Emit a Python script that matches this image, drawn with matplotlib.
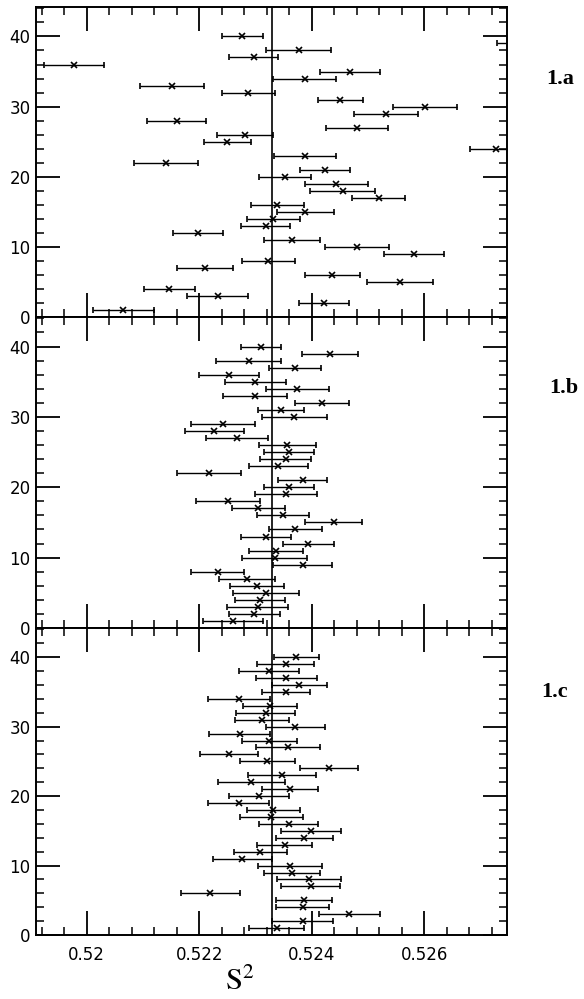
import numpy as np
import matplotlib
matplotlib.use('Agg')
import matplotlib.pyplot as plt
from matplotlib.ticker import MultipleLocator

plt.rcParams['mathtext.fontset'] = 'stix'

# run index (y) for every panel
runs = np.arange(1, 41)

# panel 1.a: S^2 estimates and half-widths of the error bars
s2_a = [0.52065, 0.52422, 0.52233, 0.52147, 0.52557, 0.52437, 0.52211, 0.52323, 0.52582, 0.52480,
        0.52365, 0.52198, 0.52318, 0.52332, 0.52389, 0.52339, 0.52519, 0.52455, 0.52444, 0.52353,
        0.52424, 0.52141, 0.52388, 0.52727, 0.52250, 0.52281, 0.52480, 0.52160, 0.52532, 0.52602,
        0.52451, 0.52287, 0.52151, 0.52388, 0.52468, 0.51978, 0.52297, 0.52377, 0.52775, 0.52277]
err_a = [0.00054, 0.00044, 0.00054, 0.00045, 0.00058, 0.00049, 0.00050, 0.00047, 0.00053, 0.00057,
         0.00049, 0.00044, 0.00044, 0.00047, 0.00050, 0.00047, 0.00047, 0.00058, 0.00056, 0.00046,
         0.00045, 0.00057, 0.00055, 0.00045, 0.00042, 0.00050, 0.00055, 0.00053, 0.00057, 0.00057,
         0.00040, 0.00047, 0.00057, 0.00056, 0.00053, 0.00053, 0.00044, 0.00058, 0.00045, 0.00036]

# panel 1.b
s2_b = [0.52260, 0.52298, 0.52304, 0.52308, 0.52319, 0.52303, 0.52285, 0.52233, 0.52384, 0.52334,
        0.52336, 0.52394, 0.52319, 0.52371, 0.52439, 0.52349, 0.52305, 0.52252, 0.52355, 0.52360,
        0.52384, 0.52218, 0.52341, 0.52354, 0.52360, 0.52357, 0.52267, 0.52227, 0.52242, 0.52369,
        0.52345, 0.52418, 0.52300, 0.52374, 0.52300, 0.52253, 0.52371, 0.52288, 0.52432, 0.52310]
err_b = [0.00054, 0.00045, 0.00054, 0.00045, 0.00058, 0.00048, 0.00050, 0.00047, 0.00053, 0.00057,
         0.00048, 0.00045, 0.00045, 0.00047, 0.00050, 0.00047, 0.00047, 0.00057, 0.00055, 0.00045,
         0.00044, 0.00057, 0.00053, 0.00045, 0.00044, 0.00050, 0.00055, 0.00053, 0.00057, 0.00058,
         0.00041, 0.00048, 0.00057, 0.00056, 0.00054, 0.00054, 0.00046, 0.00058, 0.00050, 0.00036]

# panel 1.c
s2_c = [0.52338, 0.52384, 0.52467, 0.52384, 0.52386, 0.52220, 0.52398, 0.52396, 0.52365, 0.52362,
        0.52277, 0.52309, 0.52352, 0.52387, 0.52399, 0.52359, 0.52328, 0.52332, 0.52270, 0.52306,
        0.52362, 0.52293, 0.52347, 0.52431, 0.52321, 0.52253, 0.52358, 0.52325, 0.52272, 0.52371,
        0.52311, 0.52318, 0.52326, 0.52271, 0.52354, 0.52378, 0.52355, 0.52324, 0.52354, 0.52373]
err_c = [0.00049, 0.00054, 0.00054, 0.00047, 0.00050, 0.00053, 0.00052, 0.00057, 0.00050, 0.00057,
         0.00052, 0.00047, 0.00049, 0.00051, 0.00054, 0.00053, 0.00056, 0.00047, 0.00055, 0.00053,
         0.00050, 0.00059, 0.00060, 0.00052, 0.00049, 0.00052, 0.00057, 0.00049, 0.00054, 0.00053,
         0.00048, 0.00052, 0.00048, 0.00055, 0.00043, 0.00049, 0.00054, 0.00053, 0.00051, 0.00040]

s2_ref = 0.5233
panel_names = ['1.a', '1.b', '1.c']
panels = [(s2_a, err_a), (s2_b, err_b), (s2_c, err_c)]

fig = plt.figure(figsize=(5.84, 9.99), dpi=100)
left, width = 0.0616, 0.8064
bottoms = [0.6827, 0.3714, 0.064]
tops = [0.993, 0.6827, 0.3714]
label_y = [0.921, 0.612, 0.307]
label_x = [0.959, 0.965, 0.949]

for i, (vals, errs) in enumerate(panels):
    ax = fig.add_axes([left, bottoms[i], width, tops[i] - bottoms[i]])
    ax.errorbar(vals, runs, xerr=errs, fmt='x', color='k', ms=4.5, mew=1.2,
                elinewidth=1.0, capsize=2.5, capthick=1.0)
    ax.axvline(s2_ref, color='k', lw=1.2)
    ax.set_xlim(0.5191, 0.52747)
    ax.set_ylim(0, 44.2)
    ax.xaxis.set_major_locator(MultipleLocator(0.002))
    ax.xaxis.set_minor_locator(MultipleLocator(0.0004))
    ax.yaxis.set_major_locator(MultipleLocator(10))
    ax.yaxis.set_minor_locator(MultipleLocator(2))
    ax.tick_params(which='both', direction='in', top=True, right=True)
    ax.tick_params(which='major', length=17, width=1.3, labelsize=12, pad=4)
    ax.tick_params(which='minor', length=6, width=1.1)
    ax.tick_params(axis='x', pad=8)
    for sp in ax.spines.values():
        sp.set_linewidth(1.4)
    if i < 2:
        ax.tick_params(axis='x', labelbottom=False)
    else:
        ax.set_xticks([0.52, 0.522, 0.524, 0.526])
        ax.set_xticklabels(['0.52', '0.522', '0.524', '0.526'])
    fig.text(label_x[i], label_y[i], panel_names[i], fontsize=16, fontweight='bold',
             family='Liberation Serif', ha='center', va='center')

fig.text(0.41, 0.018, r'$\mathrm{S}^{2}$', fontsize=22, ha='center', va='center')

plt.savefig('out.png', dpi=100)
